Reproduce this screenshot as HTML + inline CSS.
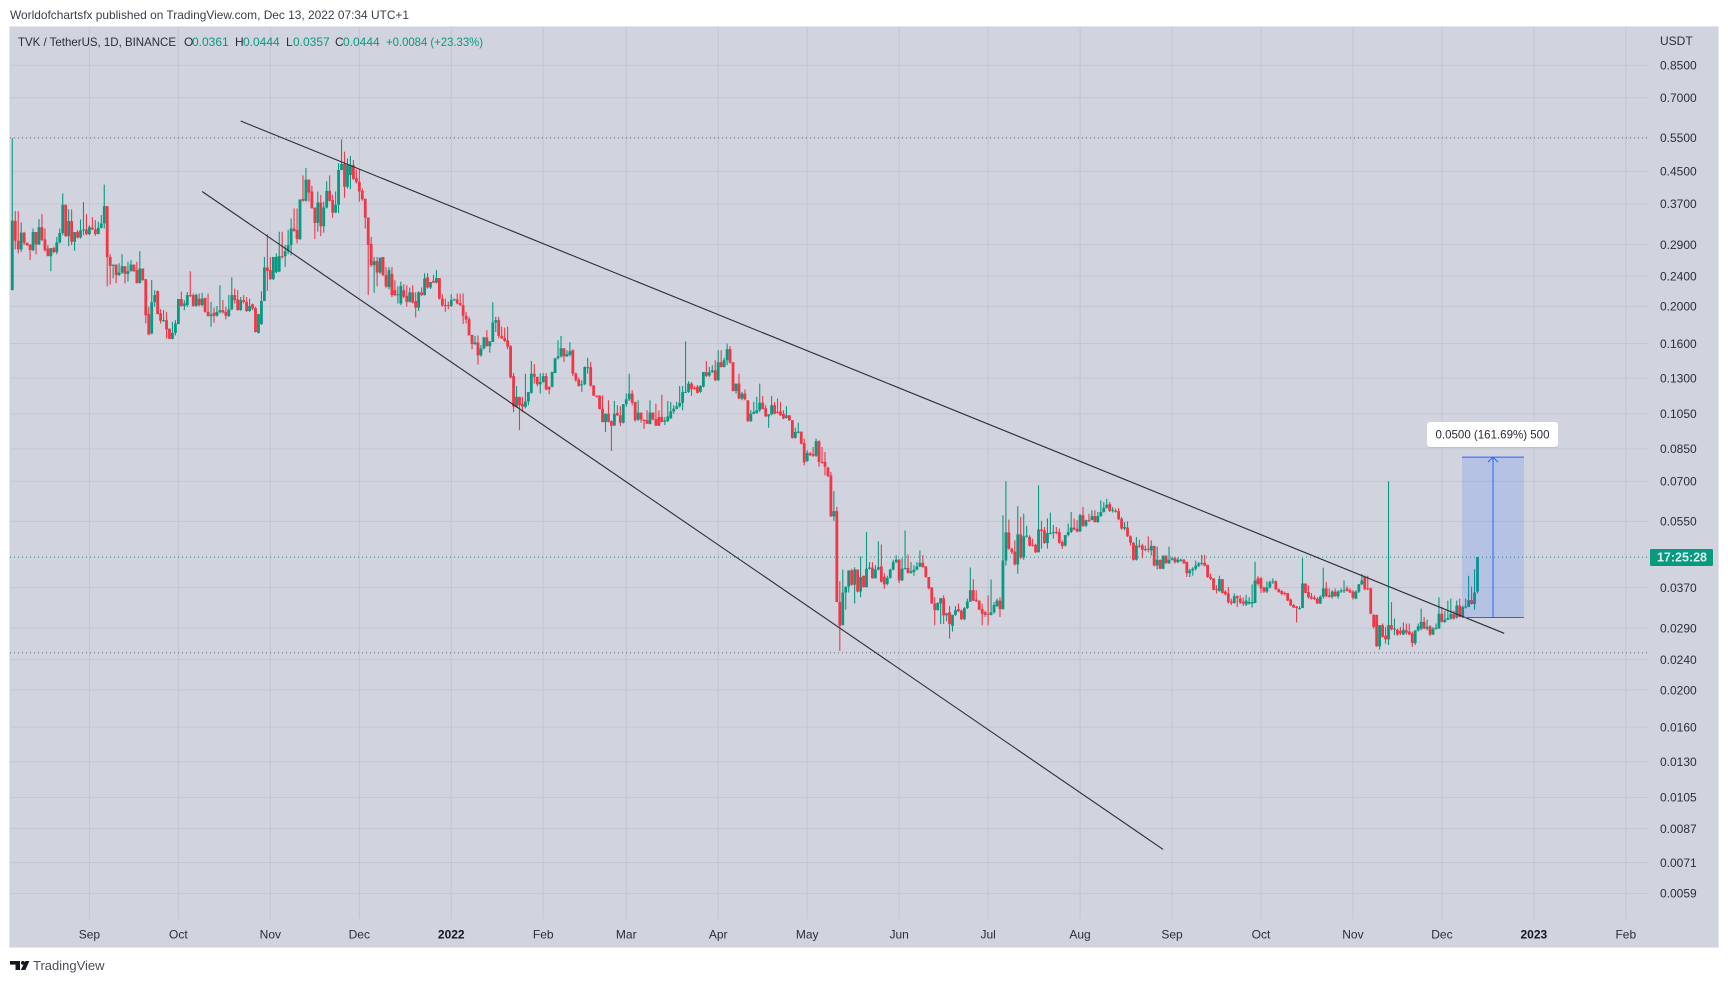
<!DOCTYPE html>
<html lang="en">
<head>
<meta charset="utf-8">
<title>TVK / TetherUS chart</title>
<style>
html,body{margin:0;padding:0;background:#fff;}
body{width:1728px;height:983px;overflow:hidden;}
svg{display:block;position:absolute;left:0;top:0;}
text{font-family:"Liberation Sans",sans-serif;}
</style>
</head>
<body>
<svg id="chart" xmlns="http://www.w3.org/2000/svg" width="1728" height="983" viewBox="0 0 1728 983">
  <text x="10" y="19" font-size="12" fill="#3a3e49" textLength="399" lengthAdjust="spacingAndGlyphs">Worldofchartsfx published on TradingView.com, Dec 13, 2022 07:34 UTC+1</text>
  <rect x="9.5" y="26.5" width="1709" height="921" fill="#d1d4de" stroke="#e4e6ee" stroke-width="1"/>
  <g id="grid"></g>
  <g id="levels"></g>
  <g id="candles"></g>
  <g id="drawings"></g>
  <g id="xaxis"></g>
  <g id="yaxis"></g>

  <g font-size="12">
    <text x="18" y="46" fill="#2a2e39" textLength="158" lengthAdjust="spacingAndGlyphs">TVK / TetherUS, 1D, BINANCE</text>
    <text x="184" y="46" fill="#2a2e39">O</text>
    <text x="192" y="46" fill="#089981">0.0361</text>
    <text x="235" y="46" fill="#2a2e39">H</text>
    <text x="243" y="46" fill="#089981">0.0444</text>
    <text x="286" y="46" fill="#2a2e39">L</text>
    <text x="293" y="46" fill="#089981">0.0357</text>
    <text x="335" y="46" fill="#2a2e39">C</text>
    <text x="343" y="46" fill="#089981">0.0444</text>
    <text x="386" y="46" fill="#089981" textLength="97" lengthAdjust="spacingAndGlyphs">+0.0084 (+23.33%)</text>
  </g>

  <text x="1660" y="45" font-size="12" fill="#2a2e39">USDT</text>

  <g>
    <rect x="1650" y="549" width="63" height="17" rx="1.5" fill="#089981"/>
    <text x="1682" y="561.5" font-size="12.5" font-weight="bold" fill="#dff1ec" text-anchor="middle">17:25:28</text>
  </g>

  <g>
    <g fill="#131722">
      <polygon points="10,961 20,961 20,970 15.5,970 15.5,964.6 10,964.6"/>
      <circle cx="22.9" cy="962.9" r="1.9"/>
      <polygon points="25.3,961 29.4,961 25.3,970 20.8,970"/>
    </g>
    <text x="33" y="970" font-size="13" fill="#4a4e59">TradingView</text>
  </g>
</svg>
<script>
const startDate = '2021-08-06';
const opens = [
.2204,.3343,.2965,.2814,.3112,.2930,.2900,.2803,.3124,.2900,
.3217,.2989,.2831,.2703,.2837,.2770,.2936,.3105,.3680,.3048,
.3337,.2947,.3124,.3023,.3155,.3174,.3086,.3210,.3174,.3086,
.3205,.3290,.3650,.2690,.2550,.2570,.2415,.2450,.2545,.2430,
.2470,.2570,.2486,.2300,.2510,.2355,.1910,.1700,.2050,.2195,
.1920,.1835,.1841,.1750,.1645,.1705,.1798,.2090,.2005,.2015,
.2140,.2140,.2005,.2095,.2015,.2105,.1935,.1885,.1925,.1890,
.1935,.1955,.1935,.1885,.1965,.2140,.2085,.1955,.2076,.2055,
.1945,.2025,.1980,.1705,.1798,.2065,.2525,.2486,.2355,.2455,
.2465,.2703,.2703,.2786,.2890,.3192,.3161,.2995,.3810,.3770,
.4280,.3985,.3620,.3300,.3730,.3235,.3620,.4000,.3786,.3510,
.3680,.4533,.4700,.4100,.4400,.4670,.4320,.4225,.4000,.3815,
.3410,.2910,.2560,.2625,.2450,.2690,.2415,.2245,.2430,.2204,
.2140,.2035,.2204,.2130,.2055,.2175,.2065,.1985,.2175,.2140,
.2380,.2240,.2330,.2305,.2370,.2095,.2015,.2015,.2005,.2076,
.2085,.2040,.2015,.1890,.1852,.1685,.1595,.1610,.1490,.1553,
.1660,.1575,.1615,.1815,.1841,.1675,.1655,.1632,.1575,.1316,
.1095,.1162,.1115,.1095,.1130,.1190,.1335,.1310,.1253,.1270,
.1316,.1235,.1235,.1340,.1465,.1482,.1555,.1482,.1495,.1537,
.1335,.1288,.1246,.1253,.1382,.1388,.1245,.1170,.1170,.1082,
.0998,.1050,.1004,.0977,.1055,.1040,.0995,.1112,.1145,.1185,
.1127,.1014,.1057,.1014,.1010,.0987,.1057,.1016,.1030,.1030,
.1000,.1004,.1022,.1065,.1082,.1098,.1120,.1190,.1197,.1258,
.1225,.1235,.1197,.1235,.1348,.1320,.1348,.1363,.1284,.1430,
.1390,.1448,.1547,.1430,.1204,.1258,.1150,.1185,.1138,.1004,
.1050,.1055,.1072,.1122,.1085,.1033,.1046,.1105,.1061,.1065,
.1050,.1024,.1040,.1010,.0908,.0937,.0943,.0880,.0791,.0827,
.0824,.0816,.0890,.0786,.0786,.0760,.0725,.0567,.0585,.0339,
.0295,.0359,.0372,.0410,.0376,.0412,.0361,.0397,.0371,.0414,
.0417,.0391,.0412,.0420,.0394,.0378,.0392,.0412,.0431,.0437,
.0386,.0414,.0416,.0404,.0406,.0412,.0420,.0429,.0420,.0394,
.0370,.0336,.0323,.0336,.0347,.0313,.0319,.0294,.0314,.0325,
.0322,.0306,.0327,.0340,.0364,.0344,.0342,.0325,.0319,.0316,
.0314,.0319,.0331,.0342,.0325,.0435,.0515,.0467,.0459,.0425,
.0509,.0443,.0503,.0501,.0478,.0478,.0457,.0524,.0521,.0483,
.0513,.0513,.0516,.0516,.0486,.0476,.0507,.0516,.0530,.0526,
.0518,.0571,.0536,.0554,.0554,.0568,.0548,.0568,.0582,.0597,
.0610,.0586,.0586,.0585,.0559,.0527,.0530,.0503,.0484,.0437,
.0476,.0476,.0464,.0467,.0462,.0475,.0422,.0437,.0414,.0448,
.0428,.0437,.0441,.0431,.0435,.0437,.0431,.0403,.0410,.0414,
.0422,.0427,.0429,.0424,.0394,.0391,.0367,.0362,.0389,.0361,
.0357,.0340,.0337,.0351,.0346,.0340,.0334,.0336,.0336,.0337,
.0391,.0391,.0370,.0361,.0370,.0382,.0384,.0366,.0362,.0358,
.0358,.0344,.0333,.0330,.0325,.0327,.0379,.0360,.0350,.0348,
.0346,.0336,.0350,.0368,.0353,.0350,.0361,.0351,.0361,.0362,
.0368,.0364,.0361,.0346,.0361,.0377,.0394,.0368,.0368,.0314,
.0314,.0260,.0295,.0277,.0271,.0295,.0288,.0287,.0285,.0279,
.0286,.0284,.0281,.0265,.0286,.0289,.0301,.0289,.0293,.0279,
.0289,.0289,.0316,.0301,.0305,.0307,.0315,.0309,.0332,.0310,
.0329,.0329,.0343,.0335,.0361];
const highs = [
.5483,.3543,.3543,.3310,.3130,.2930,.2900,.3192,.3124,.3377,
.3480,.3192,.2890,.2837,.2860,.3035,.3192,.3940,.3680,.3580,
.3580,.3124,.3161,.3370,.3740,.3480,.3256,.3415,.3357,.3325,
.3460,.4155,.3650,.2735,.2570,.2570,.2590,.2735,.2545,.2615,
.2640,.2570,.2615,.2785,.2510,.2355,.1995,.2341,.2204,.2195,
.1965,.1955,.1935,.1750,.1822,.1841,.2090,.2185,.2076,.2180,
.2470,.2160,.2160,.2160,.2170,.2105,.2160,.2055,.1985,.2005,
.2270,.2076,.1995,.2140,.2380,.2225,.2204,.2115,.2140,.2115,
.2095,.2035,.1995,.1910,.2190,.2690,.3086,.2690,.2690,.2750,
.3130,.3130,.2890,.3161,.3390,.3600,.3600,.3800,.4390,.4590,
.4280,.4120,.3620,.3985,.3905,.3750,.4240,.4390,.3905,.3985,
.4720,.5445,.5060,.4860,.4930,.4814,.4550,.4550,.4060,.3815,
.3410,.3035,.2690,.2690,.2680,.2690,.2530,.2530,.2530,.2341,
.2255,.2320,.2285,.2270,.2240,.2270,.2175,.2190,.2240,.2440,
.2440,.2315,.2415,.2486,.2370,.2150,.2095,.2055,.2150,.2095,
.2160,.2160,.2160,.1935,.1878,.1685,.1675,.1680,.1585,.1665,
.1733,.1622,.2050,.1878,.1878,.1770,.1760,.1770,.1585,.1340,
.1240,.1162,.1162,.1335,.1195,.1440,.1415,.1310,.1340,.1340,
.1340,.1235,.1350,.1465,.1632,.1675,.1555,.1537,.1612,.1545,
.1345,.1305,.1284,.1395,.1470,.1433,.1245,.1173,.1173,.1173,
.1050,.1138,.1010,.1134,.1105,.1098,.1112,.1185,.1335,.1209,
.1127,.1138,.1057,.1014,.1072,.1138,.1057,.1115,.1072,.1177,
.1030,.1134,.1127,.1105,.1127,.1240,.1240,.1622,.1276,.1270,
.1240,.1246,.1246,.1348,.1440,.1390,.1405,.1448,.1537,.1537,
.1470,.1600,.1575,.1430,.1258,.1335,.1197,.1214,.1138,.1072,
.1127,.1162,.1258,.1168,.1105,.1046,.1168,.1127,.1150,.1127,
.1072,.1098,.1040,.1010,.0966,.0995,.0943,.0904,.0843,.0835,
.0860,.0904,.0895,.0860,.0835,.0764,.0740,.0660,.0600,.0384,
.0412,.0372,.0410,.0414,.0418,.0412,.0446,.0397,.0516,.0431,
.0431,.0423,.0488,.0479,.0403,.0397,.0414,.0437,.0449,.0439,
.0441,.0521,.0451,.0431,.0423,.0431,.0462,.0449,.0420,.0394,
.0371,.0349,.0339,.0347,.0353,.0317,.0331,.0314,.0331,.0336,
.0324,.0329,.0346,.0417,.0389,.0364,.0342,.0336,.0322,.0353,
.0388,.0339,.0346,.0349,.0571,.0700,.0556,.0470,.0491,.0603,
.0565,.0576,.0536,.0506,.0496,.0481,.0683,.0552,.0532,.0560,
.0580,.0538,.0532,.0527,.0491,.0507,.0543,.0582,.0560,.0554,
.0576,.0600,.0556,.0576,.0588,.0588,.0582,.0624,.0618,.0630,
.0618,.0600,.0594,.0596,.0565,.0548,.0550,.0506,.0486,.0501,
.0493,.0481,.0476,.0503,.0491,.0475,.0473,.0437,.0448,.0448,
.0473,.0445,.0445,.0443,.0440,.0439,.0432,.0414,.0418,.0435,
.0431,.0450,.0450,.0424,.0402,.0391,.0375,.0397,.0389,.0364,
.0371,.0346,.0357,.0353,.0353,.0349,.0354,.0349,.0377,.0432,
.0396,.0394,.0372,.0384,.0386,.0391,.0386,.0368,.0364,.0361,
.0358,.0346,.0335,.0331,.0331,.0441,.0379,.0375,.0358,.0353,
.0349,.0353,.0417,.0382,.0368,.0364,.0368,.0364,.0368,.0386,
.0373,.0368,.0364,.0364,.0378,.0401,.0397,.0397,.0370,.0315,
.0314,.0295,.0298,.0292,.0700,.0339,.0307,.0289,.0292,.0300,
.0298,.0298,.0284,.0286,.0298,.0326,.0310,.0305,.0295,.0292,
.0298,.0349,.0329,.0322,.0342,.0346,.0322,.0342,.0346,.0332,
.0346,.0397,.0372,.0413,.0444];
const lows = [
.2204,.2814,.2750,.2775,.2890,.2870,.2640,.2786,.2730,.2890,
.2960,.2775,.2703,.2470,.2750,.2735,.2918,.3065,.3035,.2870,
.2890,.2792,.3005,.3005,.3065,.3065,.3065,.3161,.3055,.3086,
.3192,.3192,.2255,.2280,.2365,.2300,.2400,.2430,.2295,.2320,
.2465,.2460,.2295,.2295,.2332,.1805,.1680,.1690,.1995,.1905,
.1805,.1822,.1650,.1645,.1640,.1680,.1955,.1995,.1955,.1995,
.2115,.1995,.1995,.2000,.2000,.1925,.1880,.1770,.1815,.1880,
.1915,.1915,.1850,.1880,.1955,.2035,.1950,.1948,.2035,.1935,
.1935,.1955,.1710,.1700,.1790,.2065,.2195,.2341,.2341,.2440,
.2455,.2665,.2535,.2735,.2715,.3130,.2918,.2977,.3750,.3750,
.3750,.3600,.2995,.3130,.3048,.3112,.3600,.3750,.3405,.3500,
.3500,.4533,.3840,.4060,.4040,.4269,.4180,.3750,.3770,.3192,
.2140,.2535,.2170,.2255,.2430,.2395,.2230,.2215,.2115,.2125,
.2035,.2015,.2100,.1995,.2045,.2035,.1870,.1945,.2130,.2135,
.2225,.2220,.2305,.2295,.2085,.1995,.1935,.1965,.1995,.2068,
.2025,.2005,.1800,.1805,.1680,.1545,.1585,.1410,.1480,.1545,
.1570,.1515,.1615,.1715,.1650,.1645,.1615,.1547,.1298,.1060,
.1088,.0951,.1060,.1085,.1105,.1185,.1258,.1238,.1185,.1264,
.1209,.1180,.1230,.1340,.1454,.1470,.1433,.1476,.1482,.1316,
.1272,.1235,.1197,.1246,.1335,.1235,.1168,.1157,.1077,.0998,
.0941,.0996,.0840,.0977,.1036,.0975,.0990,.1095,.1134,.1105,
.1000,.1005,.0995,.0958,.0987,.0985,.1010,.0977,.0975,.0996,
.0981,.1000,.1018,.1050,.1077,.1090,.1072,.1190,.1190,.1168,
.1214,.1185,.1190,.1230,.1310,.1310,.1340,.1276,.1278,.1386,
.1386,.1405,.1418,.1199,.1185,.1145,.1138,.1138,.1000,.1000,
.1046,.1050,.1061,.1077,.1030,.0965,.1040,.1046,.1050,.1036,
.1016,.1020,.1005,.0904,.0904,.0932,.0873,.0770,.0786,.0814,
.0810,.0810,.0764,.0778,.0725,.0717,.0565,.0552,.0339,.0253,
.0295,.0324,.0359,.0374,.0336,.0359,.0349,.0370,.0370,.0412,
.0390,.0390,.0410,.0381,.0367,.0375,.0390,.0410,.0428,.0380,
.0385,.0412,.0402,.0402,.0397,.0410,.0418,.0417,.0392,.0366,
.0335,.0295,.0322,.0297,.0297,.0302,.0272,.0284,.0312,.0319,
.0304,.0304,.0325,.0339,.0341,.0339,.0323,.0295,.0310,.0295,
.0313,.0316,.0329,.0310,.0324,.0422,.0464,.0452,.0422,.0402,
.0439,.0437,.0499,.0473,.0473,.0455,.0457,.0467,.0481,.0467,
.0509,.0496,.0509,.0481,.0467,.0473,.0503,.0513,.0521,.0515,
.0516,.0532,.0532,.0548,.0565,.0546,.0545,.0565,.0580,.0594,
.0582,.0580,.0580,.0554,.0523,.0521,.0501,.0476,.0435,.0435,
.0469,.0441,.0460,.0457,.0448,.0420,.0412,.0413,.0413,.0427,
.0426,.0435,.0427,.0428,.0431,.0426,.0394,.0394,.0397,.0410,
.0418,.0422,.0420,.0392,.0387,.0364,.0357,.0361,.0357,.0353,
.0336,.0333,.0336,.0329,.0335,.0331,.0331,.0334,.0328,.0337,
.0374,.0358,.0358,.0358,.0368,.0378,.0364,.0358,.0353,.0353,
.0341,.0331,.0327,.0300,.0324,.0327,.0358,.0346,.0344,.0343,
.0335,.0335,.0346,.0349,.0348,.0346,.0350,.0346,.0358,.0358,
.0361,.0358,.0344,.0345,.0358,.0375,.0364,.0364,.0315,.0289,
.0259,.0255,.0274,.0264,.0262,.0286,.0278,.0277,.0278,.0278,
.0279,.0278,.0259,.0262,.0284,.0286,.0288,.0286,.0276,.0278,
.0287,.0289,.0300,.0299,.0304,.0305,.0305,.0307,.0309,.0309,
.0326,.0329,.0334,.0324,.0357];
const closes = [
.3343,.2965,.2814,.3112,.2930,.2890,.2803,.3124,.2900,.3217,
.2977,.2803,.2703,.2837,.2770,.2936,.3105,.3680,.3048,.3337,
.2947,.3124,.3023,.3155,.3174,.3086,.3217,.3174,.3086,.3205,
.3290,.3650,.2690,.2550,.2570,.2415,.2450,.2545,.2430,.2470,
.2570,.2470,.2300,.2510,.2341,.1895,.1690,.2050,.2140,.1910,
.1835,.1841,.1740,.1645,.1705,.1805,.2090,.2005,.2035,.2140,
.2135,.2005,.2140,.2015,.2095,.1935,.1890,.1905,.1890,.1935,
.1955,.1928,.1890,.1965,.2140,.2076,.1955,.2076,.2055,.1945,
.2005,.1975,.1715,.1910,.2065,.2525,.2475,.2355,.2690,.2690,
.2703,.2700,.2786,.2890,.3192,.3143,.2995,.3800,.3770,.4280,
.3960,.3600,.3300,.3730,.3235,.3620,.4000,.3770,.3510,.3680,
.4533,.4700,.4100,.4670,.4670,.4300,.4225,.3985,.3800,.3405,
.2890,.2560,.2625,.2450,.2680,.2415,.2255,.2486,.2140,.2140,
.2150,.2260,.2120,.2055,.2175,.2045,.1985,.2175,.2140,.2365,
.2240,.2315,.2305,.2370,.2095,.2010,.2005,.2005,.2076,.2085,
.2035,.2015,.1890,.1848,.1680,.1595,.1610,.1490,.1553,.1660,
.1575,.1622,.1815,.1841,.1675,.1650,.1625,.1570,.1305,.1095,
.1162,.1105,.1095,.1130,.1195,.1335,.1310,.1253,.1270,.1316,
.1214,.1214,.1350,.1465,.1482,.1555,.1482,.1500,.1528,.1335,
.1284,.1240,.1253,.1390,.1388,.1243,.1170,.1162,.1080,.0998,
.1050,.1000,.0977,.1050,.1040,.0995,.1112,.1145,.1185,.1122,
.1010,.1057,.1014,.1005,.0990,.1057,.1014,.0977,.0977,.1000,
.1008,.1033,.1065,.1082,.1098,.1120,.1195,.1197,.1258,.1217,
.1220,.1190,.1240,.1348,.1316,.1348,.1363,.1284,.1430,.1390,
.1448,.1547,.1427,.1204,.1258,.1150,.1185,.1145,.1004,.1050,
.1061,.1072,.1122,.1080,.1033,.1046,.1105,.1050,.1055,.1040,
.1020,.1040,.1010,.0908,.0941,.0943,.0877,.0784,.0830,.0819,
.0816,.0890,.0786,.0781,.0764,.0722,.0567,.0585,.0339,.0294,
.0359,.0372,.0410,.0376,.0412,.0361,.0394,.0371,.0414,.0417,
.0391,.0412,.0418,.0383,.0377,.0392,.0412,.0431,.0437,.0386,
.0414,.0416,.0404,.0408,.0412,.0420,.0429,.0418,.0394,.0368,
.0336,.0323,.0337,.0347,.0313,.0317,.0297,.0314,.0323,.0321,
.0306,.0327,.0340,.0364,.0342,.0341,.0324,.0316,.0314,.0314,
.0319,.0333,.0342,.0325,.0435,.0515,.0467,.0457,.0425,.0509,
.0443,.0503,.0505,.0476,.0476,.0457,.0524,.0519,.0483,.0513,
.0514,.0516,.0514,.0484,.0474,.0507,.0516,.0530,.0524,.0518,
.0571,.0536,.0554,.0553,.0568,.0548,.0568,.0582,.0597,.0608,
.0586,.0590,.0582,.0557,.0527,.0532,.0503,.0484,.0437,.0476,
.0475,.0464,.0466,.0464,.0475,.0422,.0437,.0414,.0448,.0428,
.0437,.0441,.0431,.0437,.0437,.0428,.0403,.0410,.0414,.0422,
.0427,.0429,.0422,.0394,.0390,.0365,.0365,.0389,.0358,.0355,
.0339,.0337,.0351,.0347,.0338,.0336,.0342,.0339,.0339,.0386,
.0378,.0368,.0361,.0370,.0382,.0384,.0366,.0360,.0356,.0356,
.0342,.0332,.0328,.0327,.0327,.0379,.0358,.0349,.0346,.0345,
.0336,.0350,.0368,.0351,.0350,.0361,.0351,.0361,.0363,.0364,
.0363,.0359,.0348,.0361,.0377,.0386,.0366,.0366,.0316,.0292,
.0260,.0295,.0275,.0271,.0295,.0288,.0289,.0279,.0281,.0287,
.0282,.0279,.0265,.0286,.0293,.0301,.0289,.0292,.0279,.0289,
.0291,.0316,.0301,.0305,.0308,.0316,.0307,.0332,.0310,.0329,
.0330,.0343,.0335,.0359,.0444];

const priceTicks = [0.85,0.70,0.55,0.45,0.37,0.29,0.24,0.20,0.16,0.13,0.105,0.085,0.07,0.055,0.037,0.029,0.024,0.02,0.016,0.013,0.0105,0.0087,0.0071,0.0059];
const timeTickDates = ['2021-09-01','2021-10-01','2021-11-01','2021-12-01','2022-01-01','2022-02-01','2022-03-01','2022-04-01','2022-05-01','2022-06-01','2022-07-01','2022-08-01','2022-09-01','2022-10-01','2022-11-01','2022-12-01','2023-01-01','2023-02-01'];
const timeTickLabels = ['Sep','Oct','Nov','Dec','2022','Feb','Mar','Apr','May','Jun','Jul','Aug','Sep','Oct','Nov','Dec','2023','Feb'];
const yearTickLabels = ['2022','2023'];
const highLevelPrice = 0.5500;
const lowLevelPrice = 0.0250;
const upperTrendDates = ['2021-10-22','2022-12-22'];
const upperTrendPrices = [0.6084,0.0281];
const lowerTrendDates = ['2021-10-09','2022-08-29'];
const lowerTrendPrices = [0.3985,0.00768];
const measureDates = ['2022-12-09','2022-12-30'];
const measurePrices = [0.0309,0.0809];

const SVGNS = 'http://www.w3.org/2000/svg';
const PRICE_TOP = 0.85, Y_TOP = 65.3, Y_PER_LN = 166.6;
const X0 = 12.3, DAY_W = 2.966;
const dayMs = 86400000;
function yScale(p){ return Y_TOP + Y_PER_LN * Math.log(PRICE_TOP / p); }
function xIndex(i){ return X0 + DAY_W * i; }
function xDate(d){ return xIndex((Date.parse(d) - Date.parse(startDate)) / dayMs); }
function mk(tag, attrs, parent){
  const el = document.createElementNS(SVGNS, tag);
  for (const k in attrs) el.setAttribute(k, attrs[k]);
  parent.appendChild(el);
  return el;
}
const gridG = document.getElementById('grid');
const levelsG = document.getElementById('levels');
const candlesG = document.getElementById('candles');
const drawG = document.getElementById('drawings');
const xG = document.getElementById('xaxis');
const yG = document.getElementById('yaxis');

priceTicks.forEach(function(p){
  const y = yScale(p);
  const line = mk('line', {x1:10, x2:1649, y1:y, y2:y, stroke:'#c3c6d1', 'stroke-width':1}, gridG);
  
  
  const t = mk('text', {x:1660, y:y+4.3, 'font-size':12, fill:'#2a2e39'}, yG);
  t.textContent = p.toFixed(4);
  
  
});
timeTickDates.forEach(function(d, i){
  const x = xDate(d);
  const line = mk('line', {x1:x, x2:x, y1:27, y2:919, stroke:'#c3c6d1', 'stroke-width':1}, gridG);
  
  
  const isYear = yearTickLabels.indexOf(timeTickLabels[i]) >= 0;
  const t = mk('text', {x:x, y:938.3, 'font-size':12, fill:isYear?'#131722':'#2a2e39', 'text-anchor':'middle', 'font-weight':isYear?'bold':'normal'}, xG);
  t.textContent = timeTickLabels[i];
  
  
});

const hiY = yScale(highLevelPrice);
const hiLine = mk('line', {x1:10, x2:1649, y1:hiY, y2:hiY, stroke:'#6a6e7a', 'stroke-width':1, 'stroke-dasharray':'1 3'}, levelsG);


const loY = yScale(lowLevelPrice);
const loLine = mk('line', {x1:10, x2:1649, y1:loY, y2:loY, stroke:'#6a6e7a', 'stroke-width':1, 'stroke-dasharray':'1 3'}, levelsG);



closes.forEach(function(c, i){
  const o = opens[i], h = highs[i], l = lows[i];
  const col = c >= o ? '#089981' : '#f23645';
  const x = xIndex(i);
  const wick = mk('line', {x1:x, x2:x, y1:yScale(h), y2:yScale(l), stroke:col, 'stroke-width':1.1}, candlesG);
  
  
  const yo = yScale(o), yc = yScale(c);
  const top = Math.min(yo, yc);
  const body = mk('rect', {x:x-1.4, y:top, width:2.8, height:Math.max(Math.abs(yo-yc),1), fill:col}, candlesG);
  
  
});

const lastY = yScale(closes[closes.length-1]);
const lastLine = mk('line', {x1:10, x2:1650, y1:lastY, y2:lastY, stroke:'#089981', 'stroke-width':1, 'stroke-dasharray':'1 3'}, levelsG);



const upper = mk('line', {x1:xDate(upperTrendDates[0]), y1:yScale(upperTrendPrices[0]), x2:xDate(upperTrendDates[1]), y2:yScale(upperTrendPrices[1]), stroke:'#2a2e39', 'stroke-width':1.1}, drawG);


const lower = mk('line', {x1:xDate(lowerTrendDates[0]), y1:yScale(lowerTrendPrices[0]), x2:xDate(lowerTrendDates[1]), y2:yScale(lowerTrendPrices[1]), stroke:'#2a2e39', 'stroke-width':1.1}, drawG);



const mx1 = 1462, mx2 = 1524;
const myB = yScale(measurePrices[0]), myT = yScale(measurePrices[1]);
const mid = (mx1 + mx2) / 2;
const box = mk('rect', {x:mx1, y:myT, width:mx2-mx1, height:myB-myT, fill:'#2962ff', 'fill-opacity':0.16}, drawG);


const topL = mk('line', {x1:mx1, x2:mx2, y1:myT, y2:myT, stroke:'#2962ff', 'stroke-width':1}, drawG);


const botL = mk('line', {x1:mx1, x2:mx2, y1:myB, y2:myB, stroke:'#2962ff', 'stroke-width':1}, drawG);


const arrow = mk('path', {d:'M'+mid+' '+myB+'V'+myT+'M'+(mid-5)+' '+(myT+5)+'L'+mid+' '+myT+'L'+(mid+5)+' '+(myT+5), fill:'none', stroke:'#2962ff', 'stroke-width':1}, drawG);


const labShadow = mk('rect', {x:1427, y:423, width:131, height:25, rx:3, fill:'#9a9eaa', 'fill-opacity':0.35}, drawG);


const lab = mk('rect', {x:1427, y:422, width:131, height:25, rx:3, fill:'#ffffff'}, drawG);


const labT = mk('text', {x:1492.5, y:438.6, 'font-size':12, fill:'#2a2e39', 'text-anchor':'middle', textLength:114, lengthAdjust:'spacingAndGlyphs'}, drawG);
labT.textContent = '0.0500 (161.69%) 500';


</script>
</body>
</html>
